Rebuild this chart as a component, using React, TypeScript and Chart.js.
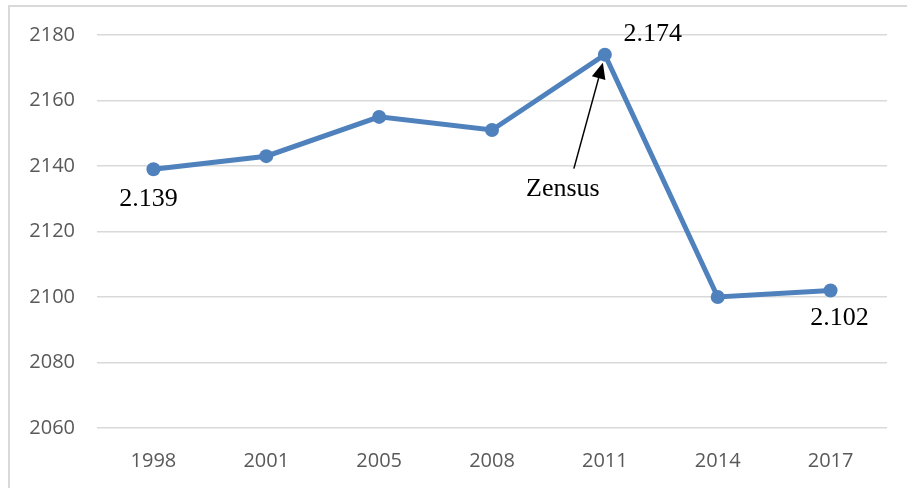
import React, { useEffect, useRef } from "react";
import { Chart, registerables } from "chart.js";

Chart.register(...registerables);

const years = ["1998", "2001", "2005", "2008", "2011", "2014", "2017"];
const values = [2139, 2143, 2155, 2151, 2174, 2100, 2102];
const labelIndices = [0, 4, 6];
const labelTexts = ["2.139", "2.174", "2.102"];
const labelOffsets = [[-5, 30], [48, -20], [9, 28]];
const noteText = "Zensus";
const noteIndex = 4;

const annotate = {
  id: "annotate",
  afterDatasetsDraw(chart: any) {
    const ctx = chart.ctx;
    const meta = chart.getDatasetMeta(0);
    ctx.save();
    ctx.fillStyle = "#000";
    ctx.font = '26px "Liberation Serif", serif';
    ctx.textAlign = "center";
    ctx.textBaseline = "middle";
    labelIndices.forEach((idx, i) => {
      const p = meta.data[idx];
      ctx.fillText(labelTexts[i], p.x + labelOffsets[i][0], p.y + labelOffsets[i][1]);
    });
    const p = meta.data[noteIndex];
    ctx.fillText(noteText, p.x - 42, p.y + 135);
    // arrow
    const x0 = p.x - 31, y0 = p.y + 114;
    const x1 = p.x - 2, y1 = p.y + 8;
    const ang = Math.atan2(y1 - y0, x1 - x0);
    const headLen = 16, headW = 7;
    const bx = x1 - headLen * Math.cos(ang), by = y1 - headLen * Math.sin(ang);
    ctx.strokeStyle = "#000";
    ctx.lineWidth = 1.5;
    ctx.beginPath();
    ctx.moveTo(x0, y0);
    ctx.lineTo(bx, by);
    ctx.stroke();
    ctx.beginPath();
    ctx.moveTo(x1, y1);
    ctx.lineTo(bx + headW * Math.sin(ang), by - headW * Math.cos(ang));
    ctx.lineTo(bx - headW * Math.sin(ang), by + headW * Math.cos(ang));
    ctx.closePath();
    ctx.fill();
    ctx.restore();
  },
};

export default function App() {
  const ref = useRef<HTMLCanvasElement>(null);
  useEffect(() => {
    const chart = new Chart(ref.current!, {
      type: "line",
      data: {
        labels: years,
        datasets: [
          {
            data: values,
            borderColor: "#4f81bd",
            backgroundColor: "#4f81bd",
            borderWidth: 5,
            pointRadius: 7,
            pointHoverRadius: 7,
            pointBackgroundColor: "#4f81bd",
            pointBorderWidth: 0,
            tension: 0,
          },
        ],
      },
      options: {
        animation: false,
        responsive: false,
        maintainAspectRatio: false,
        devicePixelRatio: 1,
        layout: { padding: { top: 35, left: 10, right: 20, bottom: 0 } },
        plugins: { legend: { display: false }, tooltip: { enabled: false } },
        scales: {
          x: {
            offset: true,
            grid: { display: false, drawTicks: false },
            border: { display: false },
            ticks: {
              color: "#595959",
              font: { family: '"Open Sans", sans-serif', size: 20 },
              padding: 21,
              maxRotation: 0,
            },
            afterFit: (s: any) => {
              s.height = 60;
            },
          },
          y: {
            min: 2060,
            max: 2180,
            grid: { color: "#d9d9d9", lineWidth: 1.5, drawTicks: false },
            border: { display: false },
            ticks: {
              stepSize: 20,
              color: "#595959",
              font: { family: '"Open Sans", sans-serif', size: 20 },
              padding: 22,
              callback: (v: any) => String(v),
            },
            afterFit: (s: any) => {
              s.width = 87;
            },
          },
        },
      },
      plugins: [annotate],
    });
    return () => chart.destroy();
  }, []);
  return (
    <div style={{ position: "absolute", left: 0, top: 0, width: 907, height: 488, background: "#fff", overflow: "hidden" }}>
      <canvas ref={ref} width={907} height={488} style={{ position: "absolute", left: 0, top: 0 }} />
      <div
        style={{
          position: "absolute",
          left: 8,
          top: 5,
          width: 920,
          height: 500,
          borderTop: "2px solid #d9d9d9",
          borderLeft: "2px solid #d9d9d9",
          pointerEvents: "none",
        }}
      />
    </div>
  );
}
